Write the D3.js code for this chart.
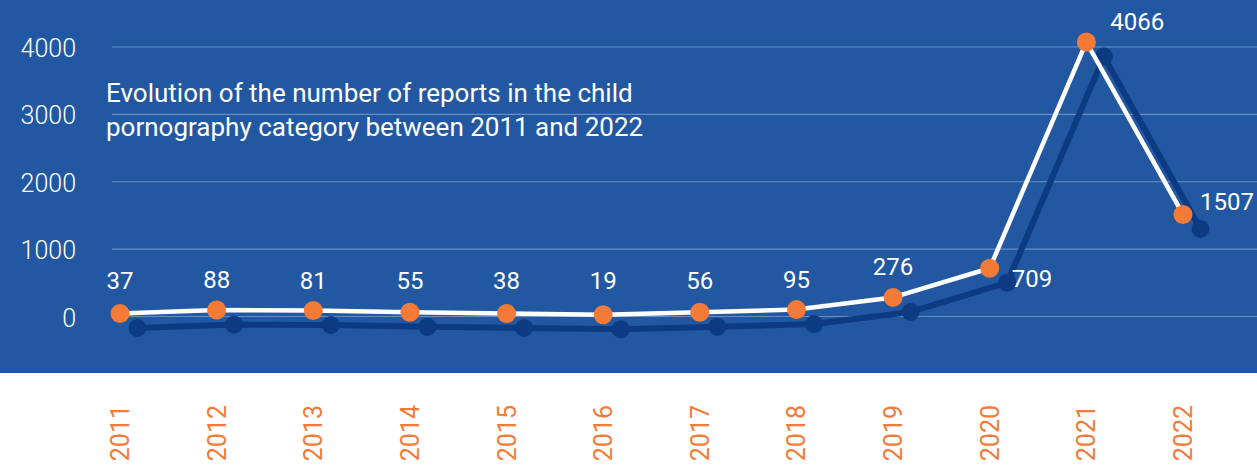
<!DOCTYPE html>
<html><head><meta charset="utf-8">
<script src="https://cdn.jsdelivr.net/npm/d3@7"></script>
<style>body{margin:0;background:#fff}svg{display:block}text{font-family:Roboto,"Noto Sans",sans-serif}</style>
</head><body><svg id="c" width="1257" height="466"></svg>
<script>
const years = ["2011","2012","2013","2014","2015","2016","2017","2018","2019","2020","2021","2022"];
const reports = [37,88,81,55,38,19,56,95,276,709,4066,1507];
const yTicks = [0,1000,2000,3000,4000];
const titleLines = ["Evolution of the number of reports in the child","pornography category between 2011 and 2022"];

const W=1257,H=466;
const svg=d3.select("#c");
svg.append("rect").attr("x",0).attr("y",0).attr("width",W).attr("height",373).attr("fill","#2258a2");

const x=d3.scalePoint().domain(years).range([120,1183]);
const y=d3.scaleLinear().domain([0,4000]).range([316,46.5]);

// grid
const gy=d3.axisLeft(y).tickValues(yTicks).tickSize(-(W-112)).tickFormat(d=>d);
const g=svg.append("g").attr("transform","translate(112,0)").call(gy);
g.select(".domain").remove();
g.selectAll(".tick line").attr("stroke","rgba(255,255,255,0.32)").attr("stroke-width",1.2);
g.selectAll(".tick text").attr("x",-36).attr("dy","0.4em").attr("fill","#fff").attr("font-size",25).attr("font-weight",300);

// title
svg.append("text").attr("x",106).attr("y",102).attr("fill","#fff").attr("font-size",26)
  .selectAll("tspan").data(titleLines).join("tspan").attr("x",106).attr("dy",(d,i)=>i?33.5:0).text(d=>d);

const data=years.map((yr,i)=>({yr,v:reports[i]}));
const line=d3.line().x(d=>x(d.yr)).y(d=>y(d.v));

// shadow
const sh=svg.append("g").attr("transform","translate(17.5,14.5)");
sh.append("path").datum(data).attr("d",line).attr("fill","none").attr("stroke","#0c3a83").attr("stroke-width",6).attr("stroke-linejoin","round");
sh.selectAll("circle").data(data).join("circle").attr("cx",d=>x(d.yr)).attr("cy",d=>y(d.v)).attr("r",9).attr("fill","#0c3a83");

// main
svg.append("path").datum(data).attr("d",line).attr("fill","none").attr("stroke","#fff").attr("stroke-width",4.5).attr("stroke-linejoin","round");
svg.selectAll("circle.p").data(data).join("circle").attr("class","p").attr("cx",d=>x(d.yr)).attr("cy",d=>y(d.v)).attr("r",9.5).attr("fill","#f47a38");

// value labels
const side={"2020":[22,19],"2021":[24,-12],"2022":[17,-4]};
svg.selectAll("text.v").data(data).join("text").attr("class","v")
  .attr("fill","#fff").attr("font-size",24)
  .each(function(d){
    const s=d3.select(this);
    if(side[d.yr]){
      s.attr("x",x(d.yr)+side[d.yr][0]).attr("y",y(d.v)+side[d.yr][1]).attr("text-anchor","start");
    } else {
      s.attr("x",x(d.yr)).attr("y",Math.min(y(d.v)-22,y(0)-27.5)).attr("text-anchor","middle");
    }
  }).text(d=>d.v);

// year labels
svg.selectAll("text.yr").data(years).join("text").attr("class","yr")
  .attr("transform",d=>`translate(${x(d)+9},405) rotate(-90)`)
  .attr("text-anchor","end").attr("fill","#f47a38").attr("font-size",25).attr("font-weight",400)
  .text(d=>d);
</script></body></html>
